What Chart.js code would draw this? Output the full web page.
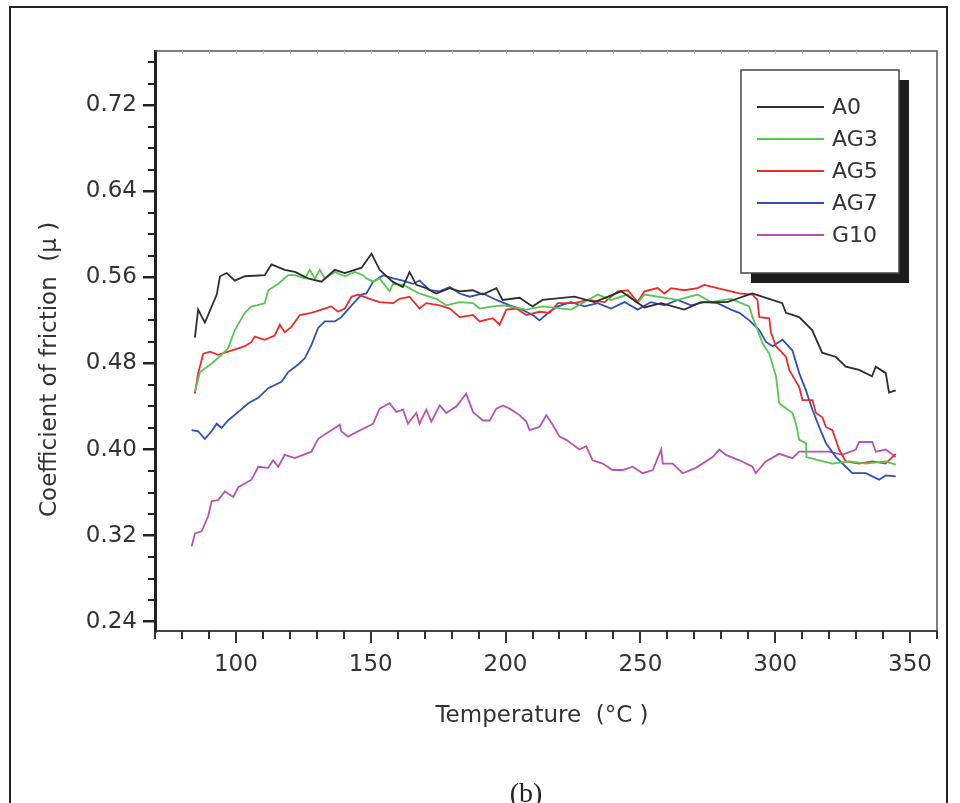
<!DOCTYPE html>
<html lang="en">
<head>
  <meta charset="UTF-8" />
  <title>Coefficient of friction vs temperature</title>
  <script src="https://cdn.jsdelivr.net/npm/chart.js"></script>
  <style>
    html, body { margin: 0; padding: 0; background: #fff; }
    #wrap { width: 960px; height: 803px; position: relative; }
  </style>
</head>
<body>
  <div id="wrap"><canvas id="grafico"></canvas></div>

  <script>
    // series names and colours
    const seriesNames = ['A0', 'AG3', 'AG5', 'AG7', 'G10'];
    const seriesColors = ['#2e2e2e', '#58c652', '#ee2b2b', '#3050b8', '#b853b4'];

    // tick labels
    const xTicks = [100, 150, 200, 250, 300, 350];
    const yTicks = [0.24, 0.32, 0.40, 0.48, 0.56, 0.64, 0.72];

    // A0
    const a0T = [84.8, 86.0, 88.5, 92.9, 94.1, 96.6, 99.6, 103.3, 110.7, 113.2, 118.1, 121.9, 126.7, 131.7, 136.7, 140.4, 146.6, 150.3, 153.3, 158.1, 161.9, 164.4, 166.9, 170.6, 174.3, 179.3, 183.0, 187.8, 191.5, 196.6, 198.9, 205.2, 210.0, 213.7, 225.6, 233.0, 242.9, 251.5, 257.7, 266.3, 272.5, 282.2, 291.5, 296.6, 302.6, 304.0, 308.9, 313.7, 317.4, 322.5, 326.2, 331.1, 335.9, 337.3, 341.0, 342.2, 344.7];
    const a0V = [0.504, 0.530, 0.518, 0.544, 0.561, 0.564, 0.557, 0.561, 0.562, 0.572, 0.567, 0.565, 0.559, 0.556, 0.567, 0.564, 0.569, 0.582, 0.567, 0.556, 0.551, 0.565, 0.553, 0.550, 0.545, 0.550, 0.547, 0.548, 0.544, 0.550, 0.539, 0.541, 0.533, 0.539, 0.542, 0.537, 0.547, 0.532, 0.536, 0.530, 0.537, 0.537, 0.545, 0.541, 0.536, 0.527, 0.523, 0.511, 0.490, 0.486, 0.477, 0.474, 0.468, 0.477, 0.471, 0.453, 0.455];

    // AG3
    const ag3T = [84.8, 86.7, 91.0, 94.7, 97.1, 99.6, 103.3, 105.8, 107.7, 110.7, 112.0, 115.7, 119.4, 121.9, 125.6, 127.4, 129.3, 131.1, 133.0, 136.7, 140.4, 144.1, 147.1, 148.4, 150.9, 153.3, 157.0, 158.3, 162.0, 168.1, 174.3, 178.0, 183.0, 187.9, 190.4, 195.3, 199.0, 207.7, 213.8, 224.3, 234.2, 239.1, 245.3, 249.0, 251.5, 256.4, 263.8, 271.2, 276.2, 283.6, 290.4, 291.6, 295.3, 297.8, 300.3, 301.5, 306.4, 307.7, 308.9, 311.4, 311.6, 316.3, 321.2, 327.4, 333.6, 341.0, 344.7];
    const ag3V = [0.454, 0.472, 0.480, 0.488, 0.494, 0.511, 0.527, 0.533, 0.534, 0.536, 0.548, 0.554, 0.562, 0.562, 0.559, 0.567, 0.559, 0.567, 0.559, 0.565, 0.561, 0.565, 0.562, 0.559, 0.556, 0.559, 0.547, 0.554, 0.553, 0.545, 0.540, 0.534, 0.537, 0.536, 0.531, 0.533, 0.534, 0.530, 0.533, 0.530, 0.544, 0.539, 0.544, 0.536, 0.544, 0.542, 0.539, 0.544, 0.537, 0.540, 0.533, 0.523, 0.499, 0.489, 0.468, 0.443, 0.434, 0.424, 0.409, 0.406, 0.393, 0.390, 0.387, 0.389, 0.387, 0.389, 0.386];

    // AG5
    const ag5T = [84.8, 86.0, 87.9, 90.4, 93.4, 97.1, 100.9, 103.3, 105.8, 107.0, 110.7, 114.4, 116.3, 118.1, 120.6, 123.7, 128.0, 131.7, 135.4, 137.9, 140.4, 142.9, 145.3, 149.6, 153.3, 158.3, 160.7, 164.4, 168.1, 170.6, 175.6, 179.3, 183.0, 187.9, 190.4, 195.3, 197.8, 200.3, 204.0, 207.7, 212.6, 216.3, 219.4, 225.6, 230.5, 236.7, 241.6, 245.3, 249.0, 251.5, 256.4, 258.9, 261.4, 266.3, 271.2, 273.7, 278.6, 286.7, 291.6, 293.4, 294.1, 297.8, 298.4, 300.3, 304.0, 305.2, 308.9, 310.1, 313.8, 315.1, 317.5, 318.8, 321.2, 323.7, 326.2, 331.1, 336.0, 340.9, 344.7];
    const ag5V = [0.452, 0.471, 0.489, 0.491, 0.488, 0.491, 0.494, 0.496, 0.500, 0.505, 0.502, 0.506, 0.516, 0.509, 0.514, 0.525, 0.527, 0.530, 0.533, 0.528, 0.531, 0.542, 0.544, 0.540, 0.537, 0.536, 0.540, 0.542, 0.531, 0.536, 0.534, 0.531, 0.523, 0.525, 0.519, 0.522, 0.516, 0.530, 0.531, 0.525, 0.528, 0.527, 0.536, 0.536, 0.539, 0.537, 0.547, 0.548, 0.537, 0.547, 0.550, 0.545, 0.550, 0.548, 0.550, 0.553, 0.550, 0.545, 0.544, 0.539, 0.523, 0.522, 0.509, 0.496, 0.486, 0.474, 0.458, 0.446, 0.446, 0.434, 0.430, 0.421, 0.418, 0.400, 0.389, 0.387, 0.389, 0.387, 0.396];

    // AG7
    const ag7T = [83.6, 86.0, 88.5, 91.0, 92.9, 94.7, 97.1, 100.9, 104.6, 108.3, 112.0, 116.9, 119.4, 123.1, 125.6, 128.0, 130.5, 133.0, 136.7, 139.1, 142.9, 146.6, 148.4, 150.9, 154.6, 158.3, 162.0, 165.7, 168.1, 171.9, 175.6, 179.3, 183.0, 186.7, 191.6, 196.6, 201.5, 205.2, 210.1, 212.6, 216.3, 219.4, 224.3, 229.3, 234.2, 239.1, 244.1, 249.0, 253.9, 258.9, 263.8, 268.8, 273.7, 278.6, 283.6, 286.7, 290.4, 294.1, 296.6, 299.0, 302.7, 306.4, 308.9, 311.4, 313.8, 316.3, 318.8, 322.5, 326.2, 328.6, 333.6, 338.5, 341.0, 344.7];
    const ag7V = [0.418, 0.417, 0.410, 0.417, 0.424, 0.420, 0.427, 0.435, 0.443, 0.448, 0.457, 0.463, 0.472, 0.479, 0.485, 0.497, 0.513, 0.519, 0.519, 0.523, 0.534, 0.544, 0.545, 0.556, 0.562, 0.559, 0.557, 0.554, 0.557, 0.548, 0.547, 0.551, 0.545, 0.542, 0.545, 0.539, 0.534, 0.531, 0.525, 0.520, 0.528, 0.533, 0.537, 0.533, 0.536, 0.531, 0.537, 0.530, 0.537, 0.534, 0.539, 0.534, 0.537, 0.536, 0.530, 0.527, 0.520, 0.511, 0.500, 0.496, 0.502, 0.492, 0.471, 0.455, 0.437, 0.421, 0.406, 0.393, 0.384, 0.378, 0.378, 0.372, 0.376, 0.375];

    // G10
    const g10T = [83.6, 84.8, 87.3, 89.7, 91.0, 93.4, 95.9, 99.0, 100.9, 105.8, 108.3, 112.0, 113.8, 115.7, 118.1, 121.9, 128.0, 130.5, 135.4, 138.5, 139.1, 141.6, 145.3, 147.8, 150.9, 153.3, 157.0, 159.5, 162.0, 163.8, 166.9, 168.1, 170.6, 172.5, 175.6, 178.0, 181.7, 185.4, 187.9, 191.6, 194.1, 196.6, 199.0, 201.5, 205.2, 207.7, 208.9, 212.6, 215.1, 217.5, 220.0, 222.5, 227.4, 229.9, 232.3, 236.0, 239.7, 243.4, 247.1, 250.9, 254.6, 257.7, 258.3, 262.0, 265.7, 270.6, 276.8, 279.3, 281.7, 286.7, 291.6, 292.8, 296.5, 301.5, 306.4, 308.9, 315.1, 320.0, 324.9, 329.9, 331.1, 336.0, 337.3, 341.0, 344.7];
    const g10V = [0.310, 0.322, 0.324, 0.338, 0.352, 0.353, 0.361, 0.356, 0.365, 0.372, 0.384, 0.383, 0.390, 0.384, 0.395, 0.392, 0.398, 0.410, 0.418, 0.423, 0.417, 0.412, 0.417, 0.420, 0.424, 0.438, 0.443, 0.435, 0.437, 0.424, 0.434, 0.424, 0.437, 0.426, 0.441, 0.434, 0.440, 0.452, 0.435, 0.427, 0.427, 0.438, 0.441, 0.438, 0.432, 0.426, 0.418, 0.421, 0.432, 0.423, 0.412, 0.409, 0.400, 0.403, 0.390, 0.387, 0.381, 0.381, 0.384, 0.378, 0.381, 0.400, 0.387, 0.387, 0.378, 0.383, 0.393, 0.400, 0.395, 0.390, 0.384, 0.378, 0.389, 0.396, 0.392, 0.398, 0.398, 0.398, 0.395, 0.400, 0.407, 0.407, 0.398, 0.400, 0.393];

    const seriesT = [a0T, ag3T, ag5T, ag7T, g10T];
    const seriesV = [a0V, ag3V, ag5V, ag7V, g10V];

    const FONT = "'DejaVu Sans', 'Liberation Sans', Arial, sans-serif";
    const TEXT = '#333';

    // marcos, ticks menores, titulos y leyenda
    const decoPlugin = {
      id: 'deco',
      afterDraw(chart) {
        const { ctx, chartArea: a, scales: { x, y } } = chart;
        ctx.save();

        // top / right frame
        ctx.strokeStyle = '#555';
        ctx.lineWidth = 1.5;
        ctx.beginPath();
        ctx.moveTo(a.left, a.top);
        ctx.lineTo(a.right, a.top);
        ctx.lineTo(a.right, a.bottom);
        ctx.stroke();

        // minor ticks x
        ctx.strokeStyle = '#333';
        ctx.lineWidth = 2;
        for (let t = 70; t <= 360; t += 10) {
          if (t % 50 === 0) continue;
          const px = Math.round(x.getPixelForValue(t));
          ctx.beginPath();
          ctx.moveTo(px, a.bottom);
          ctx.lineTo(px, a.bottom + 8);
          ctx.stroke();
        }
        // faint ticks on top
        ctx.strokeStyle = '#bbb';
        ctx.lineWidth = 1;
        for (let t = 80; t < 360; t += 10) {
          const px = Math.round(x.getPixelForValue(t)) + 0.5;
          ctx.beginPath();
          ctx.moveTo(px, a.top);
          ctx.lineTo(px, a.top + 3);
          ctx.stroke();
        }

        // minor ticks y
        ctx.strokeStyle = '#222';
        ctx.lineWidth = 2;
        for (let i = 12; i <= 38; i++) {
          if ((i - 12) % 4 === 0) continue;
          const py = Math.round(y.getPixelForValue(i * 0.02));
          ctx.beginPath();
          ctx.moveTo(a.left, py);
          ctx.lineTo(a.left - 7, py);
          ctx.stroke();
        }

        // axis titles
        ctx.fillStyle = TEXT;
        ctx.font = '23px ' + FONT;
        ctx.textAlign = 'center';
        ctx.textBaseline = 'middle';
        ctx.fillText('Temperature  (°C )', 542, 716);

        ctx.save();
        ctx.translate(50, 517);
        ctx.rotate(-Math.PI / 2);
        ctx.textAlign = 'left';
        ctx.fillText('Coefficient of friction  (μ )', 0, 0);
        ctx.restore();

        // (b)
        ctx.font = '28px "Liberation Serif", "Times New Roman", serif';
        ctx.textAlign = 'center';
        ctx.textBaseline = 'alphabetic';
        ctx.fillStyle = '#222';
        ctx.fillText('(b)', 526, 802);

        // legend with shadow
        const lx = 741, ly = 70, lw = 158, lh = 203;
        ctx.fillStyle = '#1c1c1c';
        ctx.fillRect(lx + 10, ly + 10, lw, lh);
        ctx.fillStyle = '#fff';
        ctx.fillRect(lx, ly, lw, lh);
        ctx.strokeStyle = '#444';
        ctx.lineWidth = 1.5;
        ctx.strokeRect(lx, ly, lw, lh);

        ctx.font = '22px ' + FONT;
        ctx.textAlign = 'left';
        ctx.textBaseline = 'middle';
        chart.data.datasets.forEach((ds, i) => {
          const ry = 107 + i * 32;
          ctx.strokeStyle = ds.borderColor;
          ctx.lineWidth = 1.8;
          ctx.beginPath();
          ctx.moveTo(757, ry);
          ctx.lineTo(824, ry);
          ctx.stroke();
          ctx.fillStyle = TEXT;
          ctx.fillText(ds.label, 832, ry + 1);
        });

        // outer figure frame
        ctx.strokeStyle = '#222';
        ctx.lineWidth = 2;
        ctx.strokeRect(10, 7, 937, 820);

        ctx.restore();
      }
    };

    const datasets = seriesNames.map((name, i) => ({
      label: name,
      data: seriesT[i].map((t, k) => ({ x: t, y: seriesV[i][k] })),
      borderColor: seriesColors[i],
      borderWidth: 1.8,
      pointRadius: 0,
      tension: 0,
      fill: false
    }));

    new Chart(document.getElementById('grafico'), {
      type: 'line',
      data: { datasets: datasets },
      options: {
        responsive: true,
        maintainAspectRatio: false,
        animation: false,
        layout: { padding: { top: 51, right: 23, left: 0, bottom: 0 } },
        plugins: {
          legend: { display: false },
          tooltip: { enabled: false }
        },
        scales: {
          x: {
            type: 'linear',
            min: 70,
            max: 360,
            afterBuildTicks: s => { s.ticks = xTicks.map(v => ({ value: v })); },
            afterFit: s => { s.height = 172; },
            grid: { drawOnChartArea: false, drawTicks: true, tickLength: 12, color: '#333', lineWidth: 2 },
            border: { color: '#444', width: 2 },
            ticks: {
              color: TEXT,
              font: { family: FONT, size: 23 },
              padding: 8,
              maxRotation: 0,
              callback: v => String(v)
            }
          },
          y: {
            type: 'linear',
            min: 0.2314,
            max: 0.7703,
            afterBuildTicks: s => { s.ticks = yTicks.map(v => ({ value: v })); },
            afterFit: s => { s.width = 155; },
            grid: { drawOnChartArea: false, drawTicks: true, tickLength: 12, color: '#222', lineWidth: 2.5 },
            border: { color: '#222', width: 3 },
            ticks: {
              color: TEXT,
              font: { family: FONT, size: 23 },
              padding: 6,
              callback: v => Number(v).toFixed(2)
            }
          }
        }
      },
      plugins: [decoPlugin]
    });
  </script>
</body>
</html>
